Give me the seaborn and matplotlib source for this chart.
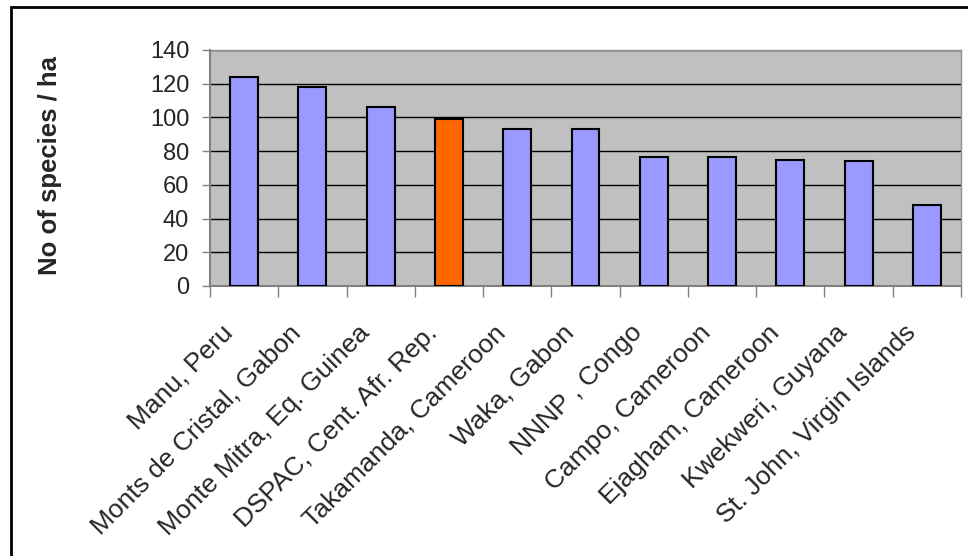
import matplotlib
matplotlib.use("Agg")
import matplotlib.pyplot as plt
import matplotlib.transforms as mtransforms
import seaborn as sns
import pandas as pd
from matplotlib.patches import Rectangle

sites = ["Manu, Peru", "Monts de Cristal, Gabon", "Monte Mitra, Eq. Guinea",
         "DSPAC, Cent. Afr. Rep.", "Takamanda, Cameroon", "Waka, Gabon",
         "NNNP , Congo", "Campo, Cameroon", "Ejagham, Cameroon",
         "Kwekweri, Guyana", "St. John, Virgin Islands"]
species = [124, 118, 106, 99, 93, 93, 76.5, 76.5, 75, 74, 48]
highlight = "DSPAC, Cent. Afr. Rep."
y_ticks = [0, 20, 40, 60, 80, 100, 120, 140]

df = pd.DataFrame({"site": sites, "species": species})
palette = {s: ("#FF6600" if s == highlight else "#9999FF") for s in sites}

sns.set_style("white")
plt.rcParams["font.family"] = ["Liberation Sans", "DejaVu Sans"]

fig = plt.figure(figsize=(9.68, 5.56), dpi=100)
W, H = 968, 556
ax = fig.add_axes([210 / W, 1 - 286 / H, (961 - 210) / W, (286 - 50) / H])
ax.set_facecolor("#C0C0C0")

sns.barplot(data=df, x="site", y="species", hue="site", palette=palette,
            order=sites, width=0.41, edgecolor="black", linewidth=1.5,
            saturation=1, legend=False, ax=ax, zorder=3)

ax.set_ylim(0, 140)
ax.set_xlim(-0.5, len(sites) - 0.5)
ax.set_yticks(y_ticks)
ax.set_yticklabels([str(t) for t in y_ticks], fontsize=17)
ax.yaxis.grid(True, color="black", linewidth=1, zorder=1)
ax.set_axisbelow(True)

# x ticks between categories
ax.set_xticks([i + 0.5 for i in range(-1, len(sites))], minor=True)
ax.set_xticks(range(len(sites)))
ax.set_xticklabels(sites, rotation=45, ha="right", va="center",
                   rotation_mode="anchor", fontsize=19)
ax.tick_params(axis="x", which="major", length=0, pad=31)
ax.tick_params(axis="x", which="minor", length=8, width=1, color="#808080",
               direction="out", bottom=True)
ax.tick_params(axis="y", length=6, width=1, color="#808080", direction="out",
               left=True, pad=9)
shift = mtransforms.ScaledTranslation(-15 / 100, 0, fig.dpi_scale_trans)
for lbl in ax.get_xticklabels():
    lbl.set_transform(lbl.get_transform() + shift)

for side in ["left", "bottom"]:
    ax.spines[side].set_color("#808080")
    ax.spines[side].set_linewidth(1.5)
for side in ["top", "right"]:
    ax.spines[side].set_visible(True)
    ax.spines[side].set_color("#909090")
    ax.spines[side].set_linewidth(1)

ax.set_xlabel("")
ax.set_ylabel("No of species / ha", fontsize=18.5, fontweight="bold")
ax.yaxis.label.set_va("center")
ax.yaxis.set_label_coords((50 - 210) / (961 - 210), 0.51)

# outer chart frame
fig.patches.append(Rectangle((11 / W, -0.1), 1.2, 1.1 - 7 / H,
                             transform=fig.transFigure, fill=False,
                             edgecolor="black", linewidth=2))

fig.savefig("out.png", dpi=100)
